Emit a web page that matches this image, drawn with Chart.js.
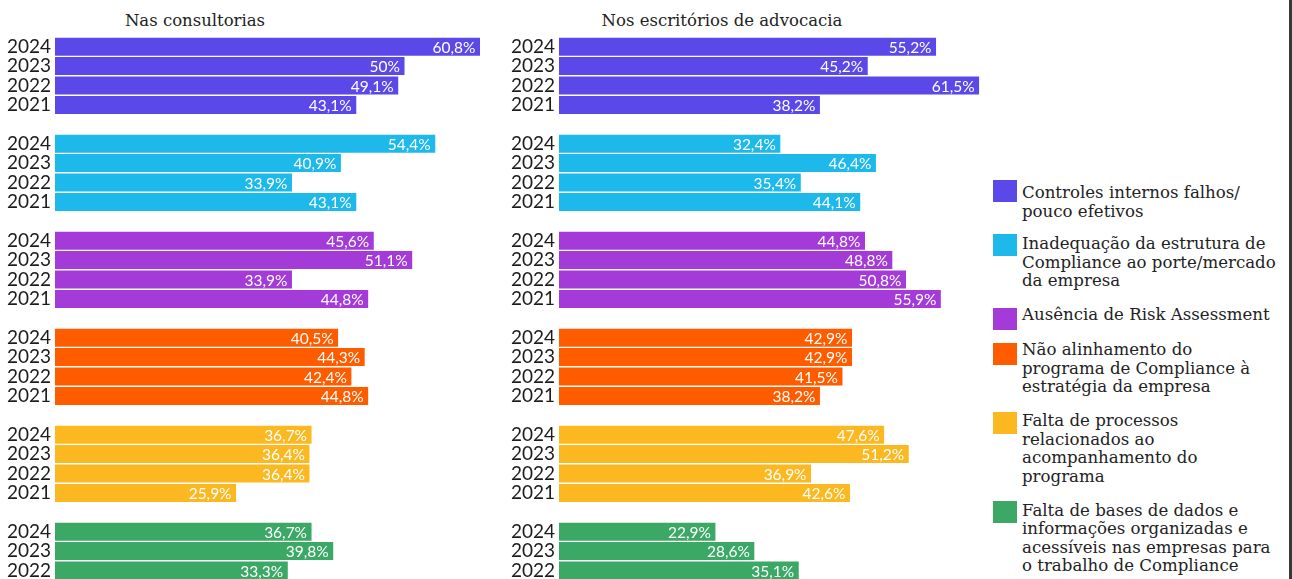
<!DOCTYPE html>
<html lang="pt-BR">
<head>
<meta charset="utf-8">
<script src="https://cdn.jsdelivr.net/npm/chart.js@4.4.1/dist/chart.umd.min.js"></script>
<style>
  html, body { margin: 0; padding: 0; background: #fff; }
  body { width: 1292px; height: 579px; overflow: hidden; position: relative; }
  canvas { position: absolute; top: 0; }
  #c1 { left: 0; }
  #c2 { left: 504px; }
  .ptitle { position: absolute; top: 11px; font-family: "DejaVu Serif", serif; font-size: 16.5px; line-height: 20px; color: #222; white-space: nowrap; transform: translateX(-50%); }
  .lsq { position: absolute; left: 993px; width: 24px; height: 22px; }
  .ltx { position: absolute; left: 1022px; font-family: "DejaVu Serif", serif; font-size: 16.6px; line-height: 18.5px; color: #222; white-space: nowrap; }
  #vline { position: absolute; left: 1289px; top: 0; width: 3px; height: 579px; background: #383838; }
</style>
</head>
<body>
<div class="ptitle" id="t1" style="left:195px"></div>
<div class="ptitle" id="t2" style="left:722px"></div>
<canvas id="c1" width="500" height="615"></canvas>
<canvas id="c2" width="486" height="615"></canvas>
<div id="legend"></div>
<div id="vline"></div>
<script>
// ---- data ----
const panelTitles = ['Nas consultorias', 'Nos escritórios de advocacia'];
const years = ['2024', '2023', '2022', '2021'];
const categoryLines = [
  ['Controles internos falhos/', 'pouco efetivos'],
  ['Inadequação da estrutura de', 'Compliance ao porte/mercado', 'da empresa'],
  ['Ausência de Risk Assessment'],
  ['Não alinhamento do', 'programa de Compliance à', 'estratégia da empresa'],
  ['Falta de processos', 'relacionados ao', 'acompanhamento do', 'programa'],
  ['Falta de bases de dados e', 'informações organizadas e', 'acessíveis nas empresas para', 'o trabalho de Compliance']
];
const categories = categoryLines.map(l => l.join(' '));
const colors = ['#5b48e8', '#1db9eb', '#a43bd9', '#ff5c00', '#fbb821', '#3ba866'];

// Nas consultorias (2024, 2023, 2022, 2021)
const consControles   = [60.8, 50.0, 49.1, 43.1];
const consInadequacao = [54.4, 40.9, 33.9, 43.1];
const consRisk        = [45.6, 51.1, 33.9, 44.8];
const consAlinhamento = [40.5, 44.3, 42.4, 44.8];
const consProcessos   = [36.7, 36.4, 36.4, 25.9];
const consBases       = [36.7, 39.8, 33.3, null]; // 2021 not visible

// Nos escritórios de advocacia (2024, 2023, 2022, 2021)
const escControles   = [55.2, 45.2, 61.5, 38.2];
const escInadequacao = [32.4, 46.4, 35.4, 44.1];
const escRisk        = [44.8, 48.8, 50.8, 55.9];
const escAlinhamento = [42.9, 42.9, 41.5, 38.2];
const escProcessos   = [47.6, 51.2, 36.9, 42.6];
const escBases       = [22.9, 28.6, 35.1, null]; // 2021 not visible

const consSeries = [consControles, consInadequacao, consRisk, consAlinhamento, consProcessos, consBases];
const escSeries  = [escControles, escInadequacao, escRisk, escAlinhamento, escProcessos, escBases];

// ---- build category slots: 4 years per group + one empty spacer ----
const labels = [];
categories.forEach((c, g) => {
  years.forEach(y => labels.push(y));
  if (g < categories.length - 1) labels.push('');
});
const slot = (g, i) => g * (years.length + 1) + i;

function makeDatasets(series) {
  return series.map((vals, g) => {
    const data = new Array(labels.length).fill(null);
    vals.forEach((v, i) => { data[slot(g, i)] = v; });
    return {
      label: categories[g],
      data,
      backgroundColor: colors[g],
      borderWidth: 0,
      grouped: false,
      barPercentage: 0.93,
      categoryPercentage: 1.0
    };
  });
}

const valueLabels = {
  id: 'valueLabels',
  afterDatasetsDraw(chart) {
    const ctx = chart.ctx;
    ctx.save();
    ctx.font = '15.5px Lato';
    ctx.fillStyle = '#ffffff';
    ctx.textAlign = 'right';
    ctx.textBaseline = 'middle';
    chart.data.datasets.forEach((ds, di) => {
      const meta = chart.getDatasetMeta(di);
      meta.data.forEach((bar, i) => {
        const v = ds.data[i];
        if (v === null || v === undefined) return;
        const txt = String(v).replace('.', ',') + '%';
        ctx.fillText(txt, bar.x - 4.5, bar.y + 1);
      });
    });
    ctx.restore();
  }
};

function makeChart(id, series, xmax) {
  return new Chart(document.getElementById(id), {
    type: 'bar',
    data: { labels, datasets: makeDatasets(series) },
    options: {
      indexAxis: 'y',
      responsive: false,
      animation: false,
      layout: { padding: { top: 37, bottom: 0, left: 0, right: 0 } },
      scales: {
        x: { display: false, min: 0, max: xmax },
        y: {
          type: 'category',
          grid: { display: false, drawTicks: false, tickLength: 0 },
          border: { display: false },
          ticks: { autoSkip: false, padding: 4, color: '#1c1c1c', font: { family: 'Lato', size: 19 } },
          afterFit(scale) { scale.width = 55; }
        }
      },
      plugins: { legend: { display: false }, tooltip: { enabled: false }, title: { display: false } }
    },
    plugins: [valueLabels]
  });
}

makeChart('c1', consSeries, 63.66);
makeChart('c2', escSeries, 63.1);

document.getElementById('t1').textContent = panelTitles[0];
document.getElementById('t2').textContent = panelTitles[1];

// ---- HTML legend ----
const legendSquareTop = [180, 234, 308, 343, 412, 501];
const legendTextTop   = [184, 235, 306, 341, 412, 501.5];
const legend = document.getElementById('legend');
categoryLines.forEach((lines, g) => {
  const sq = document.createElement('div');
  sq.className = 'lsq';
  sq.style.top = legendSquareTop[g] + 'px';
  sq.style.background = colors[g];
  legend.appendChild(sq);
  const tx = document.createElement('div');
  tx.className = 'ltx';
  tx.style.top = legendTextTop[g] + 'px';
  tx.innerHTML = lines.map(s => s.replace(/&/g, '&amp;')).join('<br>');
  legend.appendChild(tx);
});
</script>
</body>
</html>
